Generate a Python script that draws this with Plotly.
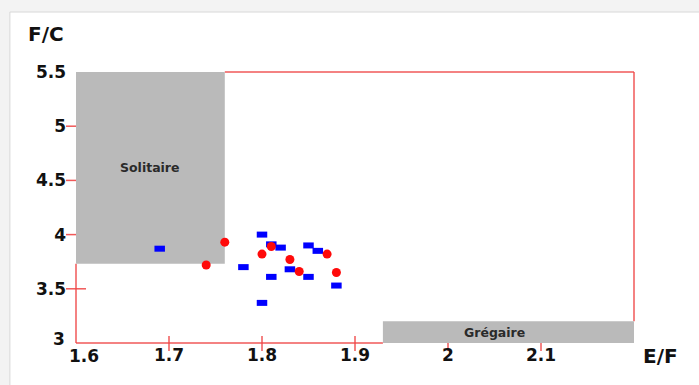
import plotly.graph_objects as go

# E/F vs F/C measurements
blue_ef = [1.69, 1.80, 1.81, 1.82, 1.85, 1.86, 1.78, 1.81, 1.83, 1.85, 1.88, 1.80]
blue_fc = [3.87, 4.00, 3.91, 3.88, 3.90, 3.85, 3.70, 3.61, 3.68, 3.61, 3.53, 3.37]
red_ef = [1.76, 1.74, 1.80, 1.81, 1.83, 1.84, 1.87, 1.88]
red_fc = [3.93, 3.72, 3.82, 3.89, 3.77, 3.66, 3.82, 3.65]

# axis ticks
x_ticks = [1.6, 1.7, 1.8, 1.9, 2.0, 2.1]
x_tick_labels = ["1.6", "1.7", "1.8", "1.9", "2", "2.1"]
y_ticks = [3, 3.5, 4, 4.5, 5, 5.5]
y_tick_labels = ["3", "3.5", "4", "4.5", "5", "5.5"]
x_range = [1.6, 2.2]
y_range = [3.0, 5.5]

# phase zones
sol_x = [1.6, 1.76]
sol_y = [3.73, 5.5]
greg_x = [1.93, 2.2]
greg_y = [3.0, 3.2]

RED = "rgba(238,70,70,0.9)"
GRAY = "#bababa"
FONT = "DejaVu Sans"
TICK_FONT = dict(family=FONT, size=17, color="#111", weight="bold")

fig = go.Figure()
fig.add_trace(go.Scatter(
    x=blue_ef, y=blue_fc, mode="markers",
    marker=dict(symbol="line-ew", size=7.5, color="#0000ff",
                line=dict(color="#0000ff", width=6)),
    showlegend=False, hoverinfo="x+y"))
fig.add_trace(go.Scatter(
    x=red_ef, y=red_fc, mode="markers",
    marker=dict(symbol="circle", size=9, color="#ff0a0a", line=dict(width=0)),
    showlegend=False, hoverinfo="x+y"))

shapes = []
# card background with light gray surround
shapes.append(dict(type="rect", xref="paper", yref="paper",
                   x0=(10 - 76) / 557, x1=1.2, y0=-0.3, y1=1 + 60 / 271,
                   fillcolor="white", line=dict(color="#d8d8d8", width=1),
                   layer="below"))

# frame segments, left open where the zones sit on it
frame = [
    dict(type="line", xref="paper", yref="y", x0=0, x1=0,
         y0=y_range[0], y1=sol_y[0]),
    dict(type="line", xref="x", yref="paper", x0=x_range[0], x1=greg_x[0],
         y0=0, y1=0),
    dict(type="line", xref="x", yref="paper", x0=sol_x[1], x1=x_range[1],
         y0=1, y1=1),
    dict(type="line", xref="paper", yref="y", x0=1, x1=1,
         y0=greg_y[1], y1=y_range[1]),
]
for s in frame:
    s.update(line=dict(color=RED, width=1.5), layer="below")
shapes += frame

# crossing tick marks
for v in y_ticks[1:-1]:
    shapes.append(dict(type="line", xref="paper", xsizemode="pixel", xanchor=0,
                       x0=-10, x1=10, yref="y", y0=v, y1=v,
                       line=dict(color=RED, width=1.5), layer="below"))
for v in x_ticks[1:]:
    shapes.append(dict(type="line", yref="paper", ysizemode="pixel", yanchor=0,
                       y0=-8, y1=7, xref="x", x0=v, x1=v,
                       line=dict(color=RED, width=1.5), layer="below"))

# zones
for zx, zy in [(sol_x, sol_y), (greg_x, greg_y)]:
    shapes.append(dict(type="rect", xref="x", yref="y",
                       x0=zx[0], x1=zx[1], y0=zy[0], y1=zy[1],
                       fillcolor=GRAY, line=dict(width=0), layer="below"))

annotations = [
    dict(text="<b>Solitaire</b>", x=sum(sol_x) / 2, y=4.62, xref="x", yref="y",
         showarrow=False, font=dict(family=FONT, size=12.5, color="#2a2a2a")),
    dict(text="<b>Grégaire</b>", x=2.05, y=3.1, xref="x", yref="y",
         showarrow=False, font=dict(family=FONT, size=12.5, color="#2a2a2a")),
    dict(text="<b>F/C</b>", x=(46 - 76) / 557, y=1 + 38 / 271, xref="paper",
         yref="paper", showarrow=False, xanchor="center", yanchor="middle",
         font=dict(family=FONT, size=20, color="#111")),
    dict(text="<b>E/F</b>", x=(659 - 76) / 557, y=-13 / 271, xref="paper",
         yref="paper", showarrow=False, xanchor="center", yanchor="middle",
         font=dict(family=FONT, size=20, color="#111")),
    # corner labels, nudged apart from each other
    dict(text=y_tick_labels[0], x=0, y=y_ticks[0], xref="paper", yref="y",
         xanchor="right", yanchor="middle", xshift=-9, yshift=4,
         showarrow=False, font=TICK_FONT),
    dict(text=x_tick_labels[0], x=x_ticks[0], y=0, xref="x", yref="paper",
         xanchor="center", yanchor="top", xshift=8, yshift=-1,
         showarrow=False, font=TICK_FONT),
]

fig.update_layout(
    width=699, height=385,
    margin=dict(l=76, r=65, t=72, b=42),
    paper_bgcolor="#f3f3f3", plot_bgcolor="rgba(0,0,0,0)",
    shapes=shapes, annotations=annotations,
    xaxis=dict(range=x_range, tickvals=x_ticks[1:], ticktext=x_tick_labels[1:],
               showgrid=False, zeroline=False, showline=False, ticks="",
               ticklabelstandoff=0, tickfont=TICK_FONT),
    yaxis=dict(range=y_range, tickvals=y_ticks[1:], ticktext=y_tick_labels[1:],
               showgrid=False, zeroline=False, showline=False, ticks="",
               ticklabelstandoff=9, tickfont=TICK_FONT),
)

fig.write_html("out.html")
